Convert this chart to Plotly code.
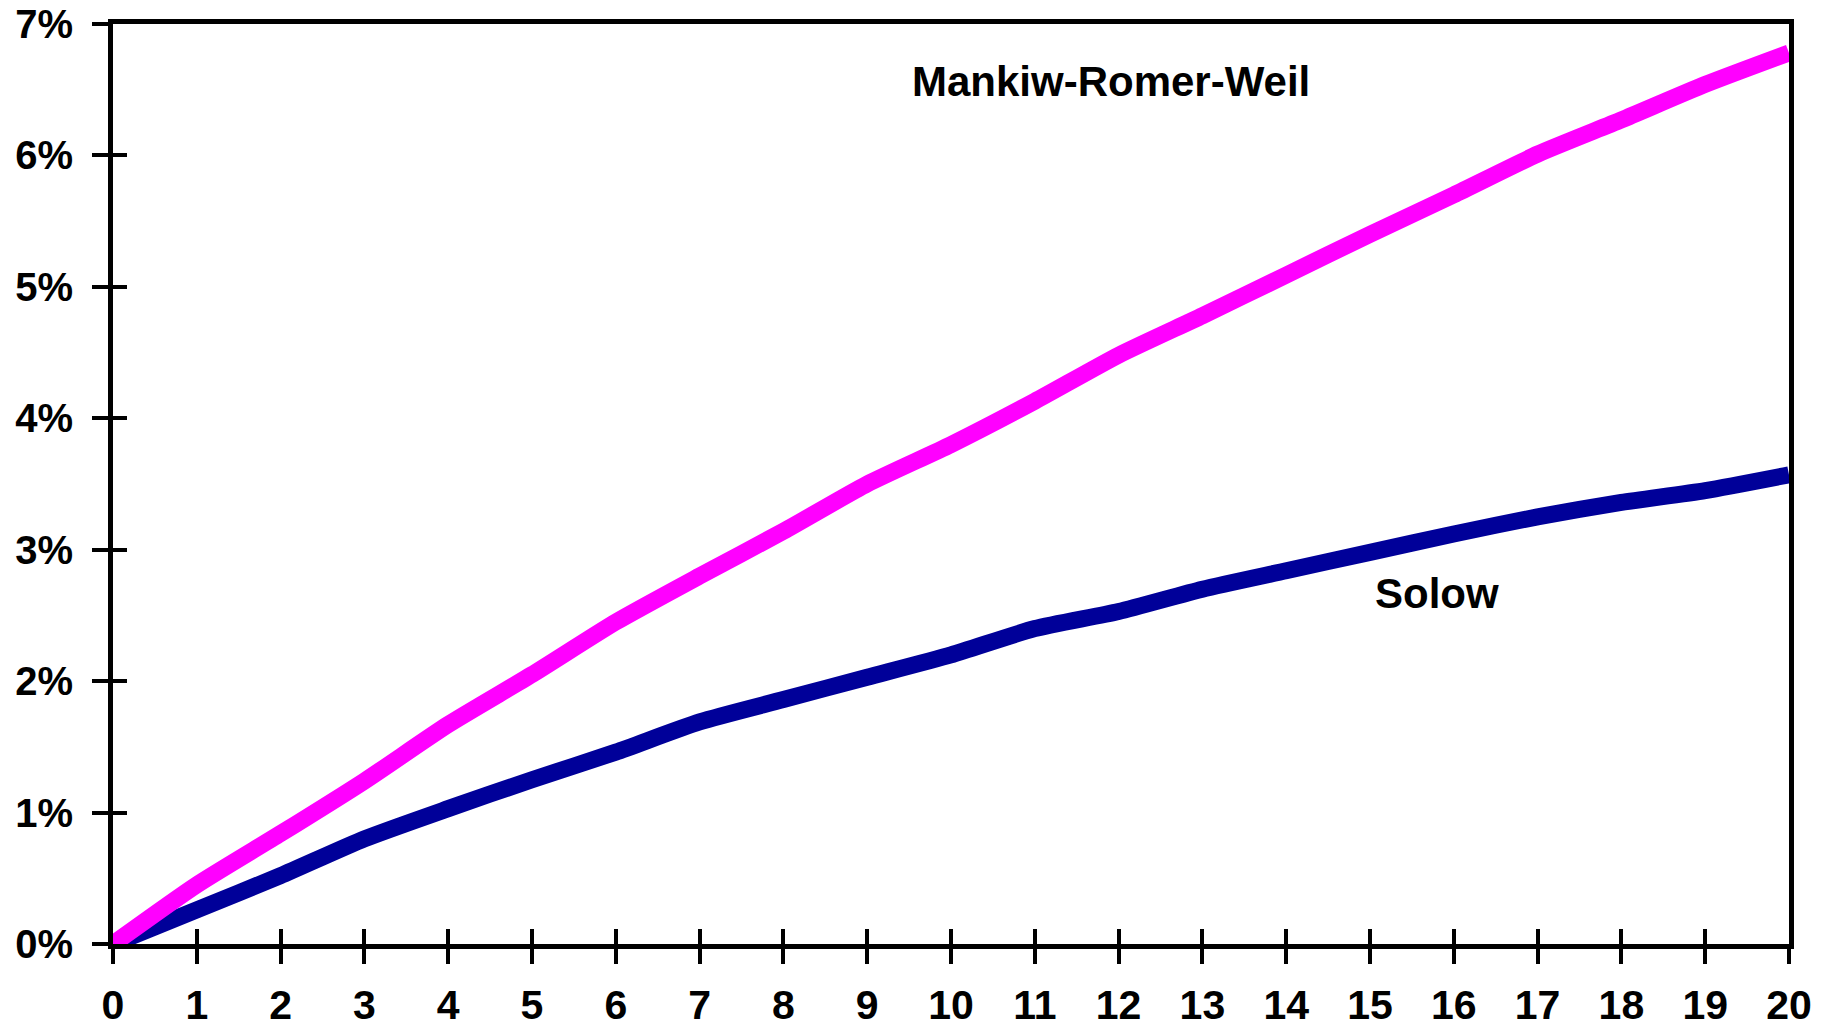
import plotly.graph_objects as go

years = list(range(0, 21))
mrw = [0.00, 0.45, 0.84, 1.24, 1.67, 2.05, 2.45, 2.80, 3.14, 3.50, 3.80,
       4.13, 4.48, 4.78, 5.09, 5.40, 5.70, 6.01, 6.27, 6.54, 6.78]
solow = [0.00, 0.26, 0.52, 0.80, 1.03, 1.25, 1.46, 1.69, 1.86, 2.03, 2.20,
         2.40, 2.53, 2.70, 2.84, 2.98, 3.12, 3.25, 3.36, 3.45, 3.57]
x_ticks = list(range(0, 21))
y_ticks = list(range(0, 8))
y_tick_labels = [f"{v}%" for v in y_ticks]

FONT = "Liberation Sans, Arial, sans-serif"

fig = go.Figure()
fig.add_trace(go.Scatter(x=years, y=solow, mode="lines",
                         line=dict(color="#000099", width=17, shape="spline", smoothing=0.6),
                         name="Solow"))
fig.add_trace(go.Scatter(x=years, y=mrw, mode="lines",
                         line=dict(color="#FF00FF", width=17, shape="spline", smoothing=0.6),
                         name="Mankiw-Romer-Weil"))
# invisible trace for the overlay axes (inner half of the crossing ticks)
fig.add_trace(go.Scatter(x=[0, 20], y=[0, 7], mode="markers", xaxis="x2", yaxis="y2",
                         marker=dict(opacity=0), hoverinfo="skip", showlegend=False))

YR = [0, 7.0001]

# page body has an 8px margin, so the figure is offset by 8px in the window
fig.update_layout(
    width=1809, height=1026,
    margin=dict(l=105, r=28, t=16, b=90, autoexpand=False),
    paper_bgcolor="white", plot_bgcolor="white",
    showlegend=False,
    font=dict(family=FONT, color="black"),
    xaxis=dict(range=[0, 20], tickvals=x_ticks, ticktext=[str(v) for v in x_ticks],
               automargin=False, ticklabeloverflow="allow",
               showgrid=False, zeroline=False, showline=True, linecolor="black",
               linewidth=5, mirror=True, ticks="outside", ticklen=15, tickwidth=4,
               tickcolor="black", ticklabelstandoff=6,
               tickfont=dict(size=41, family=FONT, weight="bold")),
    yaxis=dict(range=YR, tickvals=y_ticks, ticktext=y_tick_labels,
               automargin=False, ticklabeloverflow="allow",
               showgrid=False, zeroline=False, showline=True, linecolor="black",
               linewidth=5, mirror=True, ticks="outside", ticklen=16, tickwidth=4,
               tickcolor="black", ticklabelstandoff=11,
               tickfont=dict(size=40, family=FONT, weight="bold")),
    xaxis2=dict(range=[0, 20], overlaying="x", matches="x", tickvals=x_ticks,
                automargin=False,
                showticklabels=False, showgrid=False, zeroline=False, showline=False,
                ticks="inside", ticklen=15, tickwidth=4, tickcolor="black", side="bottom"),
    yaxis2=dict(range=YR, overlaying="y", matches="y", tickvals=y_ticks,
                automargin=False,
                showticklabels=False, showgrid=False, zeroline=False, showline=False,
                ticks="inside", ticklen=14, tickwidth=4, tickcolor="black", side="left"),
    annotations=[
        dict(x=11.91, y=6.56, text="Mankiw-Romer-Weil", showarrow=False,
             font=dict(size=42, family=FONT, weight="bold", color="black"),
             xanchor="center", yanchor="middle"),
        dict(x=15.8, y=2.67, text="Solow", showarrow=False,
             font=dict(size=42, family=FONT, weight="bold", color="black"),
             xanchor="center", yanchor="middle"),
    ],
)

fig.write_html("out.html")
